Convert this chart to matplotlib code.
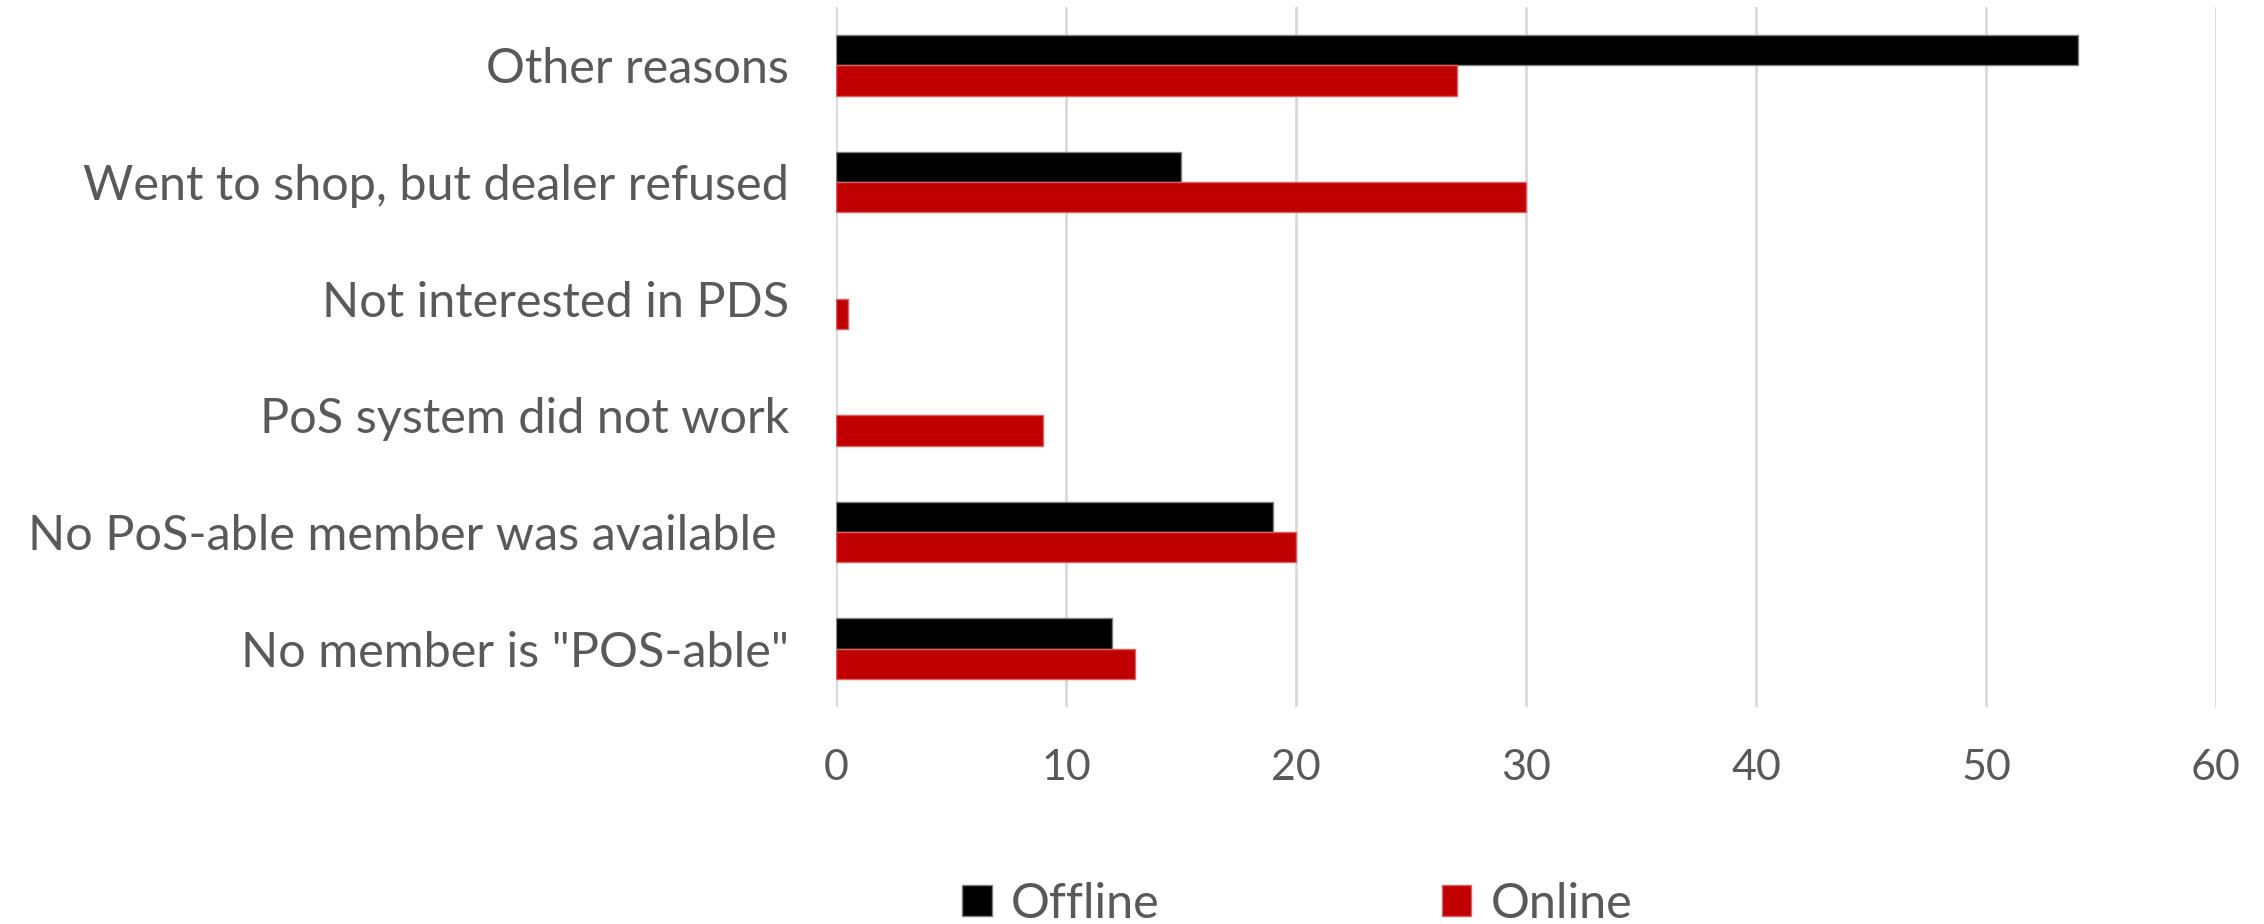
import matplotlib.pyplot as plt
import numpy as np

plt.rcParams['font.family'] = ['Lato', 'DejaVu Sans']

categories = ["Other reasons",
              "Went to shop, but dealer refused",
              "Not interested in PDS",
              "PoS system did not work",
              "No PoS-able member was available ",
              "No member is \"POS-able\""]
offline = [54, 15, 0, 0, 19, 12]
online = [27, 30, 0.5, 9, 20, 13]
series_names = ["Offline", "Online"]
x_ticks = [0, 10, 20, 30, 40, 50, 60]

text_col = "#595959"
grid_col = "#d9d9d9"

fig = plt.figure(figsize=(22.64, 9.24), dpi=100)
ax = fig.add_axes([0.3693, 0.2349, 0.6095, 0.7575])

y = np.arange(len(categories))
h = 0.26
ax.barh(y - h / 2, offline, height=h, color="black", edgecolor="#7f7f7f",
        linewidth=[1 if v > 0 else 0 for v in offline], label=series_names[0], zorder=3)
ax.barh(y + h / 2, online, height=h, color="#c00000", edgecolor="#e06060",
        linewidth=[1 if v > 0 else 0 for v in online], label=series_names[1], zorder=3)

ax.set_ylim(len(categories) - 0.5, -0.5)
ax.set_xlim(0, 60)
ax.set_xticks(x_ticks)
ax.set_yticks(y)
ax.set_yticklabels(categories)
ax.tick_params(axis='y', length=0, pad=34, labelsize=35, labelcolor=text_col)
ax.tick_params(axis='x', length=0, pad=30, labelsize=31, labelcolor=text_col)
ax.grid(axis='x', color=grid_col, linewidth=2, zorder=0)
for s in ax.spines.values():
    s.set_visible(False)

fig.legend(loc='center', bbox_to_anchor=(0.573, 0.022), ncol=2, frameon=False,
           fontsize=35, labelcolor=text_col, handlelength=0.6, handleheight=0.6,
           handletextpad=0.4, columnspacing=5.8)

fig.savefig("out.png", dpi=100)
